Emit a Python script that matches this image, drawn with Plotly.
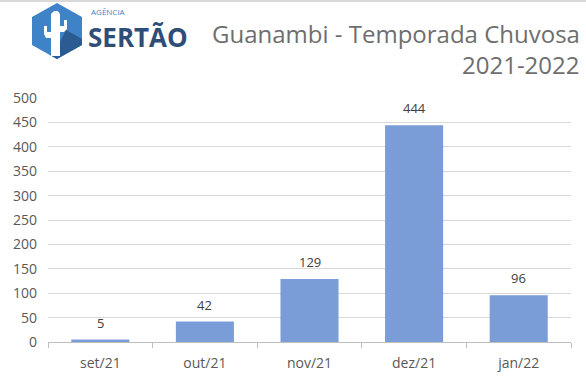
import plotly.graph_objects as go

months = ["set/21", "out/21", "nov/21", "dez/21", "jan/22"]
rain_mm = [5, 42, 129, 444, 96]
y_ticks = [0, 50, 100, 150, 200, 250, 300, 350, 400, 450, 500]

W, H = 586, 378
ML, MR, MT, MB = 48, 15, 98, 36
PW, PH = W - ML - MR, H - MT - MB

def px(x):
    return (x - ML) / PW

def py(y):
    return (H - MB - y) / PH

def path(pts):
    return "M " + " L ".join(f"{px(a):.4f},{py(b):.4f}" for a, b in pts) + " Z"

fig = go.Figure(go.Bar(
    x=months, y=rain_mm, width=0.555,
    marker=dict(color="#7A9DD8", line=dict(width=0)),
    hoverinfo="x+y",
))

shapes = []
# hexagon logo
hexagon = [(57, 3), (82, 17), (82, 45), (57, 59), (32, 45), (32, 17)]
shapes.append(dict(type="path", xref="paper", yref="paper", path=path(hexagon),
                   fillcolor="#3E82C8", line=dict(width=0), layer="above"))
dark = [(66, 30), (82, 39), (82, 45), (57, 59), (50, 55), (56, 50)]
shapes.append(dict(type="path", xref="paper", yref="paper", path=path(dark),
                   fillcolor="#2B5B90", line=dict(width=0), layer="above"))
cactus = [(51, 56), (51, 38), (46, 38), (44, 34), (44, 26), (47, 26), (47, 32), (51, 32),
          (51, 14), (54, 11), (58, 11), (60, 14), (60, 26), (64, 26), (64, 20), (67, 20),
          (67, 29), (64, 32), (60, 32), (60, 56)]
shapes.append(dict(type="path", xref="paper", yref="paper", path=path(cactus),
                   fillcolor="white", line=dict(width=0), layer="above"))
# top border line
shapes.append(dict(type="line", xref="paper", yref="paper", x0=px(0), x1=px(W),
                   y0=py(1), y1=py(1), line=dict(color="#D9D9D9", width=2)))

annotations = [
    dict(text="AGÊNCIA", x=px(89), y=py(12), xanchor="left", yanchor="middle",
         font=dict(family="Open Sans", size=8, color="#3E82C8"), showarrow=False,
         xref="paper", yref="paper"),
    dict(text="<b>SERTÃO</b>", x=px(86), y=py(37), xanchor="left", yanchor="middle",
         font=dict(family="Open Sans", size=26, color="#2E4E78"), showarrow=False,
         xref="paper", yref="paper"),
    dict(text="Guanambi - Temporada Chuvosa", x=px(582), y=py(34), xanchor="right",
         yanchor="middle", font=dict(family="Open Sans", size=24, color="#6E6E6E"),
         showarrow=False, xref="paper", yref="paper"),
    dict(text="2021-2022", x=px(582), y=py(65), xanchor="right", yanchor="middle",
         font=dict(family="Open Sans", size=24, color="#6E6E6E"),
         showarrow=False, xref="paper", yref="paper"),
]
# data labels above bars
for m, v in zip(months, rain_mm):
    annotations.append(dict(x=m, y=v, text=str(v), xref="x", yref="y",
                            yanchor="middle", yshift=17, showarrow=False,
                            font=dict(family="Open Sans", size=13, color="#404040")))

fig.update_layout(
    width=W, height=H,
    margin=dict(l=ML, r=MR, t=MT, b=MB, autoexpand=False),
    paper_bgcolor="white", plot_bgcolor="white",
    showlegend=False, bargap=0.445,
    shapes=shapes, annotations=annotations,
    font=dict(family="Open Sans", size=14, color="#595959"),
)
fig.update_xaxes(
    type="category", tickson="boundaries", ticks="outside", ticklen=5,
    tickcolor="#BFBFBF", showline=True, linecolor="#BFBFBF", linewidth=1,
    showgrid=False, tickfont=dict(size=14, color="#595959"), ticklabelstandoff=8,
    automargin=False,
)
fig.update_yaxes(
    range=[0, 500], tickvals=y_ticks, showgrid=True, gridcolor="#D9D9D9",
    gridwidth=1, zeroline=False, showline=False,
    tickfont=dict(size=14, color="#595959"), ticklabelstandoff=10,
    automargin=False,
)

fig.write_html("out.html", config={"displayModeBar": False},
               post_script="document.body.style.margin='0';")
